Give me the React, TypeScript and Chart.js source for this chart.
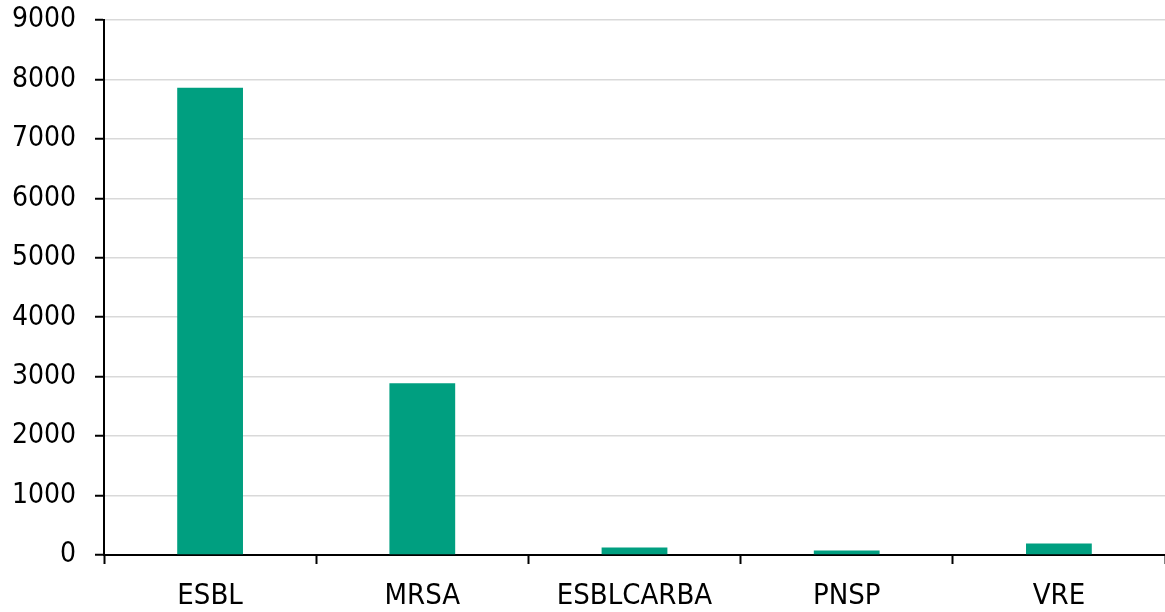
import React, { useEffect, useRef } from "react";
import { Chart, registerables } from "chart.js";

Chart.register(...registerables);

const categories = ["ESBL", "MRSA", "ESBLCARBA", "PNSP", "VRE"];
const counts = [7860, 2890, 125, 75, 195];
const yTicks = [0, 1000, 2000, 3000, 4000, 5000, 6000, 7000, 8000, 9000];

const FONT = "'DejaVu Sans Condensed', 'Liberation Sans', sans-serif";

export default function App() {
  const ref = useRef<HTMLCanvasElement>(null);
  useEffect(() => {
    document.body.style.margin = "0";
    const ctx = ref.current!;
    const chart = new Chart(ctx, {
      type: "bar",
      data: {
        labels: categories,
        datasets: [
          {
            data: counts,
            backgroundColor: "#009F80",
            borderWidth: 0,
            barPercentage: 0.31,
            categoryPercentage: 1,
          },
        ],
      },
      options: {
        animation: false,
        responsive: false,
        maintainAspectRatio: false,
        layout: { padding: { top: 20, right: 0, left: 0, bottom: 0 } },
        plugins: { legend: { display: false }, tooltip: { enabled: false } },
        scales: {
          x: {
            afterFit: (axis: any) => {
              axis.height = 57;
              axis.paddingLeft = 0;
              axis.paddingRight = 0;
            },
            grid: {
              display: true,
              drawOnChartArea: false,
              drawTicks: true,
              offset: true,
              tickLength: 9,
              tickColor: "#000",
              tickWidth: 2,
            },
            border: { color: "#000", width: 2 },
            ticks: {
              color: "#000",
              font: { family: FONT, size: 29 },
              padding: 15,
              maxRotation: 0,
            },
          },
          y: {
            min: 0,
            max: 9000,
            afterBuildTicks: (axis: any) => {
              axis.ticks = yTicks.map((v) => ({ value: v }));
            },
            afterFit: (axis: any) => {
              axis.width = 104;
              axis.paddingTop = 0;
              axis.paddingBottom = 0;
            },
            grid: {
              color: "#d9d9d9",
              lineWidth: 1.5,
              tickLength: 9,
              tickColor: "#000",
              tickWidth: 2,
            },
            border: { color: "#000", width: 2 },
            ticks: {
              color: "#000",
              font: { family: FONT, size: 28, lineHeight: 1.6 },
              padding: 19,
              callback: (v: any) => String(v),
            },
          },
        },
      },
    });
    return () => chart.destroy();
  }, []);
  return (
    <div style={{ position: "absolute", left: 0, top: 0, width: 1165, height: 612 }}>
      <canvas ref={ref} width={1165} height={612} style={{ width: 1165, height: 612 }} />
    </div>
  );
}
